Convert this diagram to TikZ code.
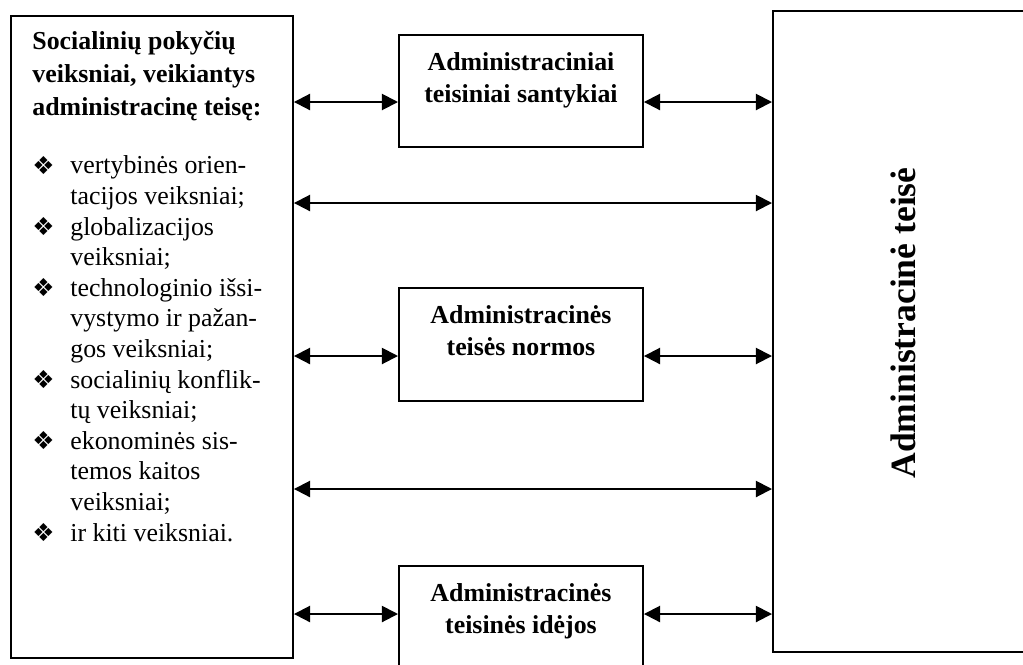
\documentclass[tikz,border=0pt]{standalone}
\usepackage{fontspec}
\setmainfont{Liberation Serif}
\newfontfamily\symfont{DejaVu Sans}
\usetikzlibrary{arrows.meta,positioning}

\newcommand{\pxu}{0.464pt}
\newcommand{\itemmark}{\makebox[17.6pt][l]{\raisebox{-0.3pt}{\symfont\fontsize{11.5}{11.5}\selectfont ❖}}}
\newcommand{\itemgap}{\hspace*{17.6pt}}

\begin{document}
\begin{tikzpicture}[
        x=0.464pt, y=-0.464pt,
        >={Triangle[length=7.5pt,width=7.5pt]},
        every node/.style={font=\fontsize{12}{14.2}\selectfont},
        box/.style={draw, line width=0.9pt, inner sep=0pt, anchor=north west},
        boxtext/.style={font=\fontsize{12}{14.8}\selectfont\bfseries, align=center, inner sep=0pt},
        link/.style={<->, line width=0.9pt}
    ]
    \useasboundingbox (0,0) rectangle (1023,664);
    \clip (0,0) rectangle (1023,664);

    % rows of the arrows
    \coordinate (row1) at (0,102);
    \coordinate (row2) at (0,203);
    \coordinate (row3) at (0,356);
    \coordinate (row4) at (0,489);
    \coordinate (row5) at (0,614);

    % left block
    \node[box, minimum width=282*\pxu, minimum height=642*\pxu] (socbox) at (10,15) {};
    \node[anchor=north west, inner sep=0pt, align=left,
          font=\fontsize{12}{15.3}\selectfont\bfseries] (sochead) at (32,30.5)
        {Socialinių pokyčių\\veiksniai, veikiantys\\administracinę teisę:};
    \node[anchor=north west, inner sep=0pt, align=left] (soclist) at (32,155.5)
        {\itemmark vertybinės orien-\\
         \itemgap tacijos veiksniai;\\
         \itemmark globalizacijos\\
         \itemgap veiksniai;\\
         \itemmark technologinio išsi-\\
         \itemgap vystymo ir pažan-\\
         \itemgap gos veiksniai;\\
         \itemmark socialinių konflik-\\
         \itemgap tų veiksniai;\\
         \itemmark ekonominės sis-\\
         \itemgap temos kaitos\\
         \itemgap veiksniai;\\
         \itemmark ir kiti veiksniai.};

    % middle blocks
    \node[box, minimum width=244*\pxu, minimum height=112*\pxu] (relbox) at (398,34) {};
    \node[boxtext, below=8.6pt of relbox.north] (reltext) {Administraciniai\\teisiniai santykiai};

    \node[box, minimum width=244*\pxu, minimum height=113*\pxu] (normbox) at (398,287) {};
    \node[boxtext, below=8.6pt of normbox.north] (normtext) {Administracinės\\teisės normos};

    \node[box, minimum width=244*\pxu, minimum height=120*\pxu] (ideabox) at (398,565) {};
    \node[boxtext, below=8.6pt of ideabox.north] (ideatext) {Administracinės\\teisinės idėjos};

    % right block
    \node[box, minimum width=280*\pxu, minimum height=641*\pxu] (lawbox) at (772,10) {};
    \node[rotate=90, inner sep=0pt, font=\fontsize{16.5}{19}\selectfont\bfseries] (lawtext) at (903,323)
        {Administracinė teisė};

    % arrows
    \draw[link] (socbox.east |- row1) -- (relbox.west |- row1);
    \draw[link] (relbox.east |- row1) -- (lawbox.west |- row1);
    \draw[link] (socbox.east |- row2) -- (lawbox.west |- row2);
    \draw[link] (socbox.east |- row3) -- (normbox.west |- row3);
    \draw[link] (normbox.east |- row3) -- (lawbox.west |- row3);
    \draw[link] (socbox.east |- row4) -- (lawbox.west |- row4);
    \draw[link] (socbox.east |- row5) -- (ideabox.west |- row5);
    \draw[link] (ideabox.east |- row5) -- (lawbox.west |- row5);
\end{tikzpicture}
\end{document}
